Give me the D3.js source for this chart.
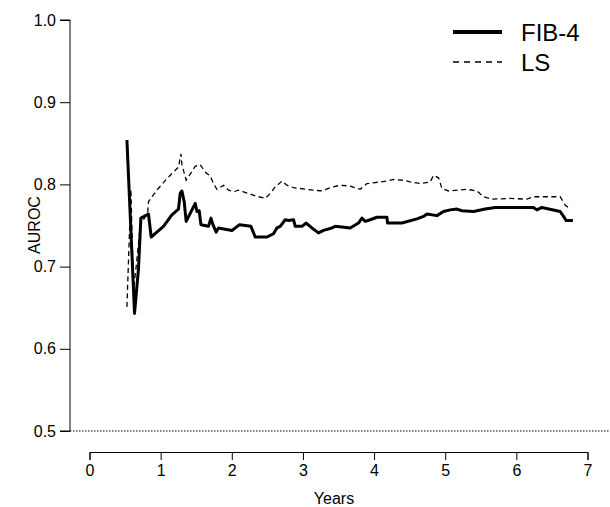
<!DOCTYPE html>
<html>
<head>
<meta charset="utf-8">
<script src="https://cdn.jsdelivr.net/npm/d3@7"></script>
<style>
  body { margin: 0; background: #fff; }
  text { font-family: "Liberation Sans", Arial, sans-serif; }
</style>
</head>
<body>
<div class="fig"></div>
<script>
// FIB-4 curve (years, AUROC)
var fibYears = [0.526,0.633,0.689,0.722,0.829,0.867,0.947,1.040,1.158,1.251,1.275,1.299,1.331,1.359,1.486,1.510,1.542,1.566,1.673,1.707,1.735,1.781,1.813,2.002,2.109,2.269,2.329,2.494,2.586,2.634,2.681,2.751,2.797,2.868,2.892,2.986,3.046,3.126,3.219,3.289,3.407,3.454,3.665,3.781,3.829,3.876,3.946,4.040,4.181,4.189,4.391,4.602,4.695,4.743,4.883,4.976,5.070,5.164,5.235,5.398,5.562,5.703,6.241,6.289,6.359,6.616,6.663,6.701,6.795];
var fibAuc   = [0.854,0.643,0.698,0.759,0.764,0.736,0.742,0.749,0.763,0.770,0.789,0.792,0.779,0.755,0.777,0.767,0.768,0.751,0.749,0.759,0.751,0.742,0.747,0.744,0.751,0.749,0.736,0.736,0.740,0.747,0.749,0.757,0.756,0.757,0.749,0.749,0.753,0.747,0.741,0.744,0.747,0.749,0.747,0.753,0.759,0.755,0.757,0.760,0.760,0.753,0.753,0.758,0.761,0.764,0.762,0.767,0.769,0.770,0.768,0.767,0.770,0.772,0.772,0.769,0.772,0.767,0.761,0.756,0.756];

// LS curve (years, AUROC)
var lsYears = [0.526,0.582,0.618,0.656,0.713,0.818,0.829,0.947,1.088,1.251,1.285,1.299,1.359,1.486,1.556,1.626,1.697,1.743,1.791,1.884,1.954,2.024,2.094,2.165,2.235,2.329,2.470,2.540,2.611,2.705,2.775,2.868,2.962,3.056,3.149,3.267,3.383,3.524,3.665,3.805,3.899,4.086,4.180,4.273,4.414,4.508,4.649,4.789,4.836,4.906,4.954,5.046,5.305,5.446,5.538,5.656,5.914,6.149,6.241,6.616,6.686,6.757];
var lsAuc   = [0.651,0.794,0.672,0.700,0.750,0.766,0.779,0.793,0.807,0.821,0.837,0.824,0.805,0.822,0.824,0.815,0.810,0.801,0.794,0.799,0.793,0.791,0.793,0.791,0.789,0.786,0.783,0.789,0.797,0.804,0.799,0.796,0.795,0.794,0.793,0.792,0.796,0.799,0.798,0.794,0.801,0.803,0.804,0.806,0.805,0.803,0.801,0.803,0.811,0.808,0.795,0.792,0.794,0.792,0.785,0.782,0.783,0.782,0.785,0.785,0.775,0.770];

var xTicks = [0,1,2,3,4,5,6,7];
var yTicks = [0.5,0.6,0.7,0.8,0.9,1.0];
var seriesNames = ["FIB-4", "LS"];

var svg = d3.select(".fig").append("svg")
    .attr("width", 610)
    .attr("height", 507);

var x = d3.scaleLinear().domain([0, 7]).range([89.5, 587.5]);
var y = d3.scaleLinear().domain([0.5, 1.0]).range([431, 20]);

// y axis
var yAx = svg.append("g")
    .attr("transform", "translate(70,0)")
    .call(d3.axisLeft(y).tickValues(yTicks).tickFormat(d3.format(".1f")).tickSize(10).tickPadding(4));
yAx.select(".domain").attr("d", "M-10," + y(1.0) + "H0V" + y(0.5) + "H-10");
yAx.selectAll("text").style("font-size", "16px").attr("fill", "#000");
yAx.selectAll("line, path").attr("stroke", "#000");

// x axis
var xAx = svg.append("g")
    .attr("transform", "translate(0,452)")
    .call(d3.axisBottom(x).tickValues(xTicks).tickFormat(d3.format("d")).tickSize(8).tickPadding(5));
xAx.selectAll("text").style("font-size", "16px").attr("fill", "#000");
xAx.selectAll("line, path").attr("stroke", "#000");

// reference line at 0.5
svg.append("line")
    .attr("x1", 70).attr("x2", 610)
    .attr("y1", y(0.5)).attr("y2", y(0.5))
    .attr("stroke", "#000")
    .attr("stroke-width", 1)
    .attr("stroke-dasharray", "1.5,1.5");

svg.append("text")
    .attr("transform", "translate(40," + 225 + ") rotate(-90)")
    .attr("text-anchor", "middle")
    .style("font-size", "16px")
    .text("AUROC");

svg.append("text")
    .attr("x", 334).attr("y", 504)
    .attr("text-anchor", "middle")
    .style("font-size", "16px")
    .text("Years");

var line = d3.line()
    .x(function(d) { return x(d[0]); })
    .y(function(d) { return y(d[1]); });

var fib = fibYears.map(function(v, i) { return [v, fibAuc[i]]; });
var ls = lsYears.map(function(v, i) { return [v, lsAuc[i]]; });

svg.append("path")
    .attr("d", line(ls))
    .attr("fill", "none")
    .attr("stroke", "#000")
    .attr("stroke-width", 1.3)
    .attr("stroke-dasharray", "5,3.5");

svg.append("path")
    .attr("d", line(fib))
    .attr("fill", "none")
    .attr("stroke", "#000")
    .attr("stroke-width", 3)
    .attr("stroke-linejoin", "round");

// legend
var leg = svg.append("g");
leg.append("line")
    .attr("x1", 453).attr("x2", 502).attr("y1", 32).attr("y2", 32)
    .attr("stroke", "#000").attr("stroke-width", 4);
leg.append("line")
    .attr("x1", 453).attr("x2", 502).attr("y1", 62).attr("y2", 62)
    .attr("stroke", "#000").attr("stroke-width", 1.5)
    .attr("stroke-dasharray", "6,5");
leg.selectAll("text.lab")
    .data(seriesNames)
    .enter().append("text")
    .attr("class", "lab")
    .attr("x", 521)
    .attr("y", function(d, i) { return 41 + i * 30; })
    .style("font-size", "24px")
    .text(function(d) { return d; });
</script>
</body>
</html>
